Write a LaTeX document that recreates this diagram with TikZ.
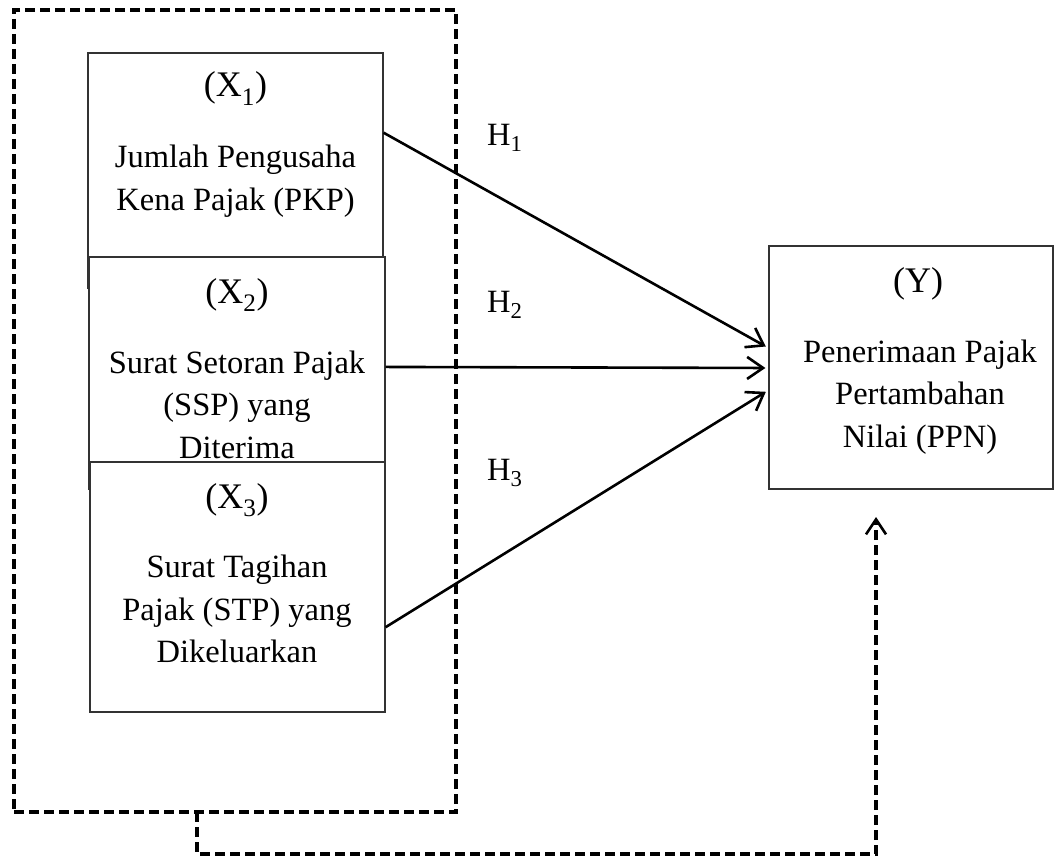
\documentclass[tikz,border=0pt]{standalone}
\usepackage{fontspec}
\setmainfont{Liberation Serif}
\usetikzlibrary{arrows.meta,calc}
\tikzset{
  varbox/.style={draw=black!80, line width=1.2pt, fill=white, rectangle, inner sep=0pt},
  txt/.style={anchor=base, inner sep=0pt, font=\fontsize{32.5}{40}\selectfont},
  hdr/.style={anchor=base, inner sep=0pt, font=\fontsize{36}{40}\selectfont},
  grpline/.style={line width=3.2pt, dash pattern=on 10pt off 5pt},
  link/.style={line width=2.6pt, -{Straight Barb[length=16pt,width=22pt,line width=2.6pt]}},
}
\begin{document}
\begin{tikzpicture}[x=1pt,y=-1pt]
\useasboundingbox (0,0) rectangle (1054,856);
% dashed group
\node[grpline, draw, rectangle, inner sep=0pt, minimum width=442pt, minimum height=802pt] (grp) at (235,411) {};
% boxes
\node[varbox, minimum width=295pt, minimum height=235pt] (x1) at (235.5,170.5) {};
\node[varbox, minimum width=296pt, minimum height=232pt] (x2) at (237,373) {};
\node[varbox, minimum width=295pt, minimum height=250pt] (x3) at (237.5,587) {};
\node[varbox, minimum width=284pt, minimum height=243pt] (yb) at (911,367.5) {};
% texts
\node[hdr] (x1h) at (235.5,97) {(X\textsubscript{1})};
\node[txt] (x1a) at (235.5,167) {Jumlah Pengusaha};
\node[txt] (x1b) at (235.5,210) {Kena Pajak (PKP)};
\node[hdr] (x2h) at (237,303) {(X\textsubscript{2})};
\node[txt] (x2a) at (237,373) {Surat Setoran Pajak};
\node[txt] (x2b) at (237,415) {(SSP) yang};
\node[txt] (x2c) at (237,458) {Diterima};
\node[hdr] (x3h) at (237,508) {(X\textsubscript{3})};
\node[txt] (x3a) at (237,577) {Surat Tagihan};
\node[txt] (x3b) at (237,620) {Pajak (STP) yang};
\node[txt] (x3c) at (237,662) {Dikeluarkan};
\node[hdr] (yh) at (918,292) {(Y)};
\node[txt] (ya) at (920,362) {Penerimaan Pajak};
\node[txt] (yb2) at (920,404) {Pertambahan};
\node[txt] (yc) at (920,447) {Nilai (PPN)};
\node[txt, anchor=base west] (h1) at (487,145) {H\textsubscript{1}};
\node[txt, anchor=base west] (h2) at (487,312) {H\textsubscript{2}};
\node[txt, anchor=base west] (h3) at (487,480) {H\textsubscript{3}};
% arrows
\draw[link, shorten >=3pt] ($(x1.north east)!0.34!(x1.south east)$) -- ($(yb.north west)!0.42!(yb.south west)$);
\draw[link, shorten >=3pt] ($(x2.north east)!0.474!(x2.south east)$) -- ($(yb.north west)!0.502!(yb.south west)$);
\draw[link, shorten >=3pt] ($(x3.north east)!0.66!(x3.south east)$) -- ($(yb.north west)!0.593!(yb.south west)$);
% feedback dashed
\coordinate (fbs) at (197,812);
\coordinate (fbe) at (876,517);
\draw[grpline, -{Straight Barb[length=15pt,width=20pt,line width=2.6pt]}] (fbs) -- (197,854) -- (876,854) -- (fbe);
\end{tikzpicture}
\end{document}
